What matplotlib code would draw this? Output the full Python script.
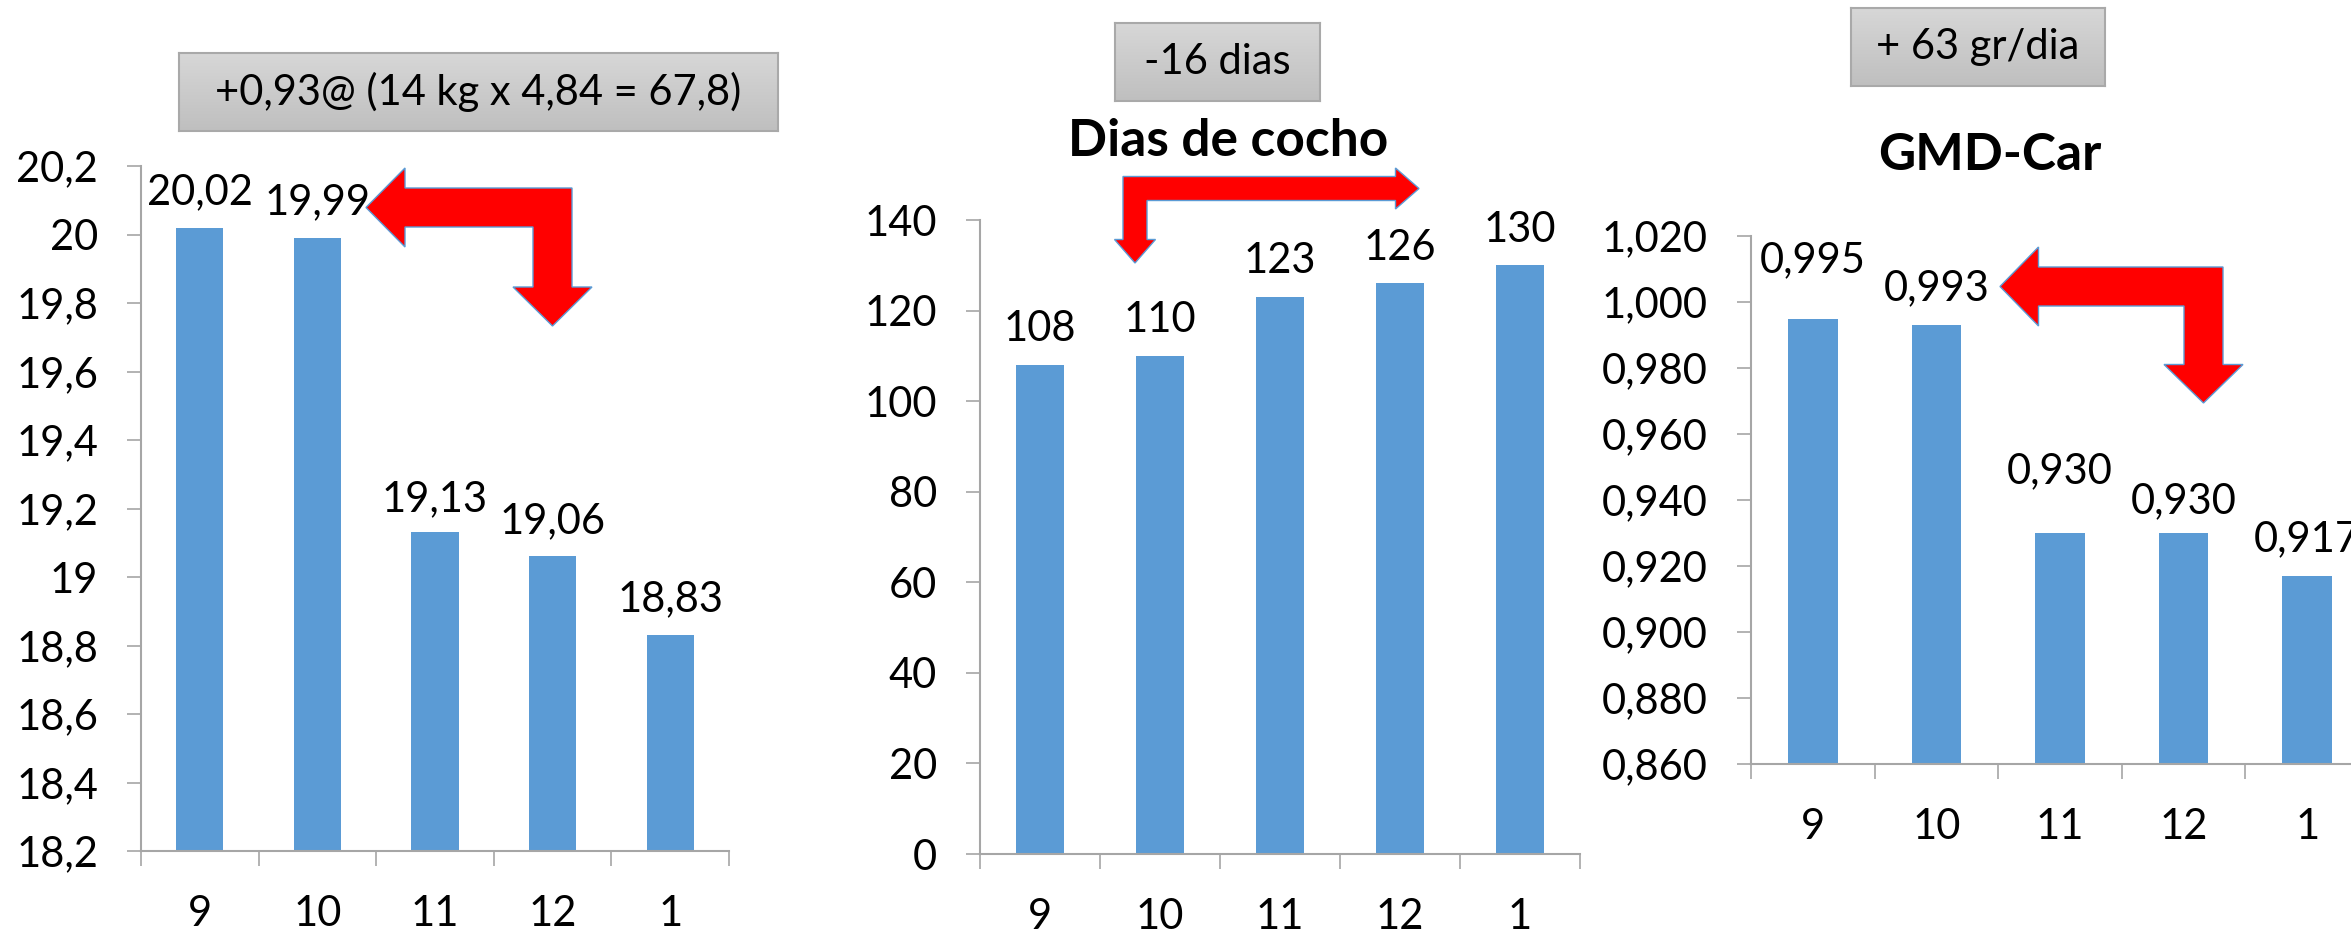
import numpy as np
import matplotlib
matplotlib.use("Agg")
from matplotlib import pyplot as plt
from matplotlib.patches import Polygon
from matplotlib.ticker import FixedLocator, FuncFormatter

plt.rcParams["font.family"] = ["Lato", "DejaVu Sans"]

W, H = 2351, 932
months = ["9", "10", "11", "12", "1"]

# peso de carcaça (@)
peso = [20.02, 19.99, 19.13, 19.06, 18.83]
# dias de cocho
dias = [108, 110, 123, 126, 130]
# GMD carcaça (kg/dia)
gmd = [0.995, 0.993, 0.930, 0.930, 0.917]

BAR = "#5b9bd5"
AXIS = "#a6a6a6"
FS = 30


def px_rect(x0, y0, x1, y1):
    # pixel box (y down) -> figure fraction [left, bottom, width, height]
    return [x0 / W, 1 - y1 / H, (x1 - x0) / W, (y1 - y0) / H]


def fmt_comma(decimals):
    def f(v, pos=None):
        if decimals is None:
            s = f"{v:g}"
        else:
            s = f"{v:.{decimals}f}"
        return s.replace(".", ",")
    return f


def bar_panel(fig, rect, values, ylim, step, tick_dec, label_dec, gaps):
    ax = fig.add_axes(rect)
    x = np.arange(len(values))
    ax.bar(x, values, width=0.4, color=BAR, zorder=2)
    ax.set_xlim(-0.5, len(values) - 0.5)
    ax.set_ylim(*ylim)
    for s in ["top", "right"]:
        ax.spines[s].set_visible(False)
    for s in ["left", "bottom"]:
        ax.spines[s].set_color(AXIS)
        ax.spines[s].set_linewidth(1.5)
    ax.yaxis.set_major_locator(FixedLocator(np.arange(ylim[0], ylim[1] + step / 2, step)))
    ax.yaxis.set_major_formatter(FuncFormatter(fmt_comma(tick_dec)))
    ax.tick_params(axis="y", direction="out", length=10, width=1.2, color=AXIS,
                   labelsize=FS, pad=21)
    ax.set_xticks(x)
    ax.set_xticklabels(months)
    ax.xaxis.set_minor_locator(FixedLocator(np.arange(len(values) + 1) - 0.5))
    ax.tick_params(axis="x", which="major", length=0, labelsize=FS, pad=32)
    ax.tick_params(axis="x", which="minor", direction="out", length=11, width=1.2, color=AXIS)
    lab = fmt_comma(label_dec)
    for xi, v, g in zip(x, values, gaps):
        ax.annotate(lab(v), (xi, v), xytext=(0, g), textcoords="offset points",
                    ha="center", va="baseline", fontsize=FS, annotation_clip=False)
    return ax


def gray_box(fig, x0, y0, x1, y1, text):
    bx = fig.add_axes(px_rect(x0, y0, x1, y1))
    grad = np.linspace(0, 1, 100).reshape(-1, 1)
    bx.imshow(grad, aspect="auto", cmap=matplotlib.colors.LinearSegmentedColormap.from_list(
        "g", ["#d7d7d7", "#bfbfbf"]), extent=[0, 1, 0, 1], origin="upper")
    bx.set_xticks([])
    bx.set_yticks([])
    for s in bx.spines.values():
        s.set_color("#a9a9a9")
        s.set_linewidth(1.5)
    bx.text(0.5, 0.5, text, ha="center", va="center", fontsize=FS, transform=bx.transAxes)


def bent_arrow(fig, corner, hx, vy, w, hw, hl):
    # L-shaped double arrow: one head horizontal, one head vertical (pixel coords, y down)
    cx, cy = corner
    sx = np.sign(hx - cx)
    sy = np.sign(vy - cy)
    hb = hx - sx * hl
    vb = vy - sy * hl
    pts = [
        (hx, cy), (hb, cy - sy * hw), (hb, cy - sy * w),
        (cx - sx * w, cy - sy * w), (cx - sx * w, vb), (cx - sx * hw, vb),
        (cx, vy), (cx + sx * hw, vb), (cx + sx * w, vb),
        (cx + sx * w, cy + sy * w), (hb, cy + sy * w), (hb, cy + sy * hw),
    ]
    pts = [(px / W, 1 - py / H) for px, py in pts]
    fig.patches.append(Polygon(pts, closed=True, facecolor="#ff0000", edgecolor="#5b9bd5",
                               linewidth=1.0, transform=fig.transFigure, zorder=5))


fig = plt.figure(figsize=(W / 100, H / 100), dpi=100)

bar_panel(fig, px_rect(141, 166, 729, 851), peso, (18.2, 20.2), 0.2, None, 2,
          [17, 17, 15, 17, 17])
bar_panel(fig, px_rect(980, 220, 1580, 854), dias, (0, 140), 20, 0, 0,
          [17, 17, 17, 17, 17])
bar_panel(fig, px_rect(1751, 236, 2369, 764), gmd, (0.86, 1.02), 0.02, 3, 3,
          [33, 18, 36, 14, 18])

fig.text(1228 / W, 1 - 141 / H, "Dias de cocho", ha="center", va="center",
         fontsize=37, fontweight="bold")
fig.text(1990 / W, 1 - 156 / H, "GMD-Car", ha="center", va="center",
         fontsize=37, fontweight="bold")

gray_box(fig, 179, 53, 778, 131, "+0,93@ (14 kg x 4,84 = 67,8)")
gray_box(fig, 1115, 23, 1320, 101, "-16 dias")
gray_box(fig, 1851, 8, 2105, 86, "+ 63 gr/dia")

bent_arrow(fig, (552.5, 207.5), 366, 326, 19.5, 39.5, 39)
bent_arrow(fig, (1135, 188.5), 1419, 263, 12, 20.5, 23.5)
bent_arrow(fig, (2203.5, 286.5), 2000, 403, 19.5, 39.5, 38.5)

fig.savefig("out.png", dpi=100)
